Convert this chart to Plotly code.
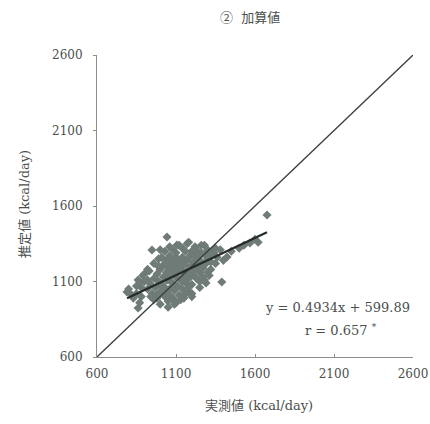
import plotly.graph_objects as go

# Measured (x) vs estimated (y) energy intake, kcal/day
measured = [800, 790, 820, 860, 870, 880, 850, 900, 890, 920, 948, 990, 1043, 1106, 1140, 1180,
            1220, 1260, 1300, 1340, 1390, 1423, 1568, 1600, 1676, 1000, 980, 1050, 1100, 1150,
            1200, 1250, 1280, 1320, 1350, 1300,
            920, 940, 950, 960, 970, 980, 990, 1000, 1000, 1010, 1020, 1020, 1030, 1030, 1040,
            1040, 1050, 1050, 1060, 1060, 1070, 1070, 1080, 1080, 1080, 1090, 1090, 1100, 1100,
            1100, 1110, 1110, 1120, 1120, 1130, 1130, 1140, 1140, 1150, 1150, 1160, 1160, 1170,
            1170, 1180, 1180, 1190, 1190, 1200, 1200, 1210, 1220, 1220, 1230, 1240, 1240, 1250,
            1260, 1270, 1280, 1290, 1300, 1310, 1320, 1330, 1360, 1380, 1400, 1450, 1500, 1530,
            1620, 940, 960, 990, 1010, 1030, 1060, 1000, 1120, 1080, 1060, 1090, 1130, 1160, 1200,
            1170, 1230, 1250, 1270, 1290, 1310, 1050, 1020, 980, 920, 880, 850, 830, 870, 900,
            930, 960, 860, 1000, 1040, 1070, 1110, 1140, 1180, 1210, 1040, 1260, 1350, 1280, 1200,
            1230]
estimated = [1050, 1030, 1010, 925, 960, 1000, 1070, 1100, 1140, 1180, 1309, 1250, 1395, 1342,
             1320, 1360, 1330, 1340, 1310, 1290, 1097, 1262, 1355, 1380, 1540, 950, 990, 930, 960,
             990, 1020, 1060, 1110, 1180, 1220, 1250,
             1050, 1080, 1020, 1120, 1060, 1150, 1100, 1030, 1180, 1080, 1130, 1210, 1000, 1060,
             1160, 1240, 1110, 1190, 1050, 1270, 1140, 1220, 990, 1090, 1170, 1250, 1040, 1130,
             1200, 1290, 1070, 1160, 1230, 1010, 1110, 1180, 1260, 1050, 1140, 1210, 1090, 1300,
             1170, 1240, 1030, 1120, 1200, 1270, 1150, 1080, 1230, 1180, 1290, 1120, 1210, 1260,
             1160, 1230, 1190, 1280, 1220, 1160, 1270, 1230, 1300, 1260, 1310, 1240, 1300, 1320,
             1340, 1360, 1000, 980, 1200, 1260, 1300, 1330, 1310, 1340, 1310, 1010, 950, 980, 1020,
             1000, 1350, 1310, 1100, 1130, 1090, 1140, 970, 1050, 1010, 1110, 1060, 1020, 990, 1090,
             1150, 1170, 1220, 1110, 1080, 1110, 1060, 1250, 1100, 1060, 1140, 1030, 1290, 1320,
             1340, 1300, 1260]

# Regression line y = 0.4934x + 599.89
slope = 0.4934
intercept = 599.89
fit_x = [min(measured), max(measured)]
fit_y = [slope * v + intercept for v in fit_x]

# Line of identity
ident = [600, 2600]

tick_vals = [600, 1100, 1600, 2100, 2600]
tick_text = ["600", "1100", "1600", "2100", "2600"]

serif = "DejaVu Serif, Liberation Serif, serif"
mixed = "DejaVu Serif, Noto Sans CJK JP, serif"
txt = "#4a4f4d"

L, R, T, B = 97, 17, 55, 67
W, H = 430, 424

fig = go.Figure()
fig.add_trace(go.Scatter(
    x=measured, y=estimated, mode="markers",
    marker=dict(symbol="diamond", size=7, color="#6f7b77"),
    hoverinfo="skip",
))
fig.add_trace(go.Scatter(
    x=ident, y=ident, mode="lines",
    line=dict(color="#3b403e", width=1.3), hoverinfo="skip",
))
fig.add_trace(go.Scatter(
    x=fit_x, y=fit_y, mode="lines",
    line=dict(color="#262b29", width=2.2), hoverinfo="skip",
))

fig.update_layout(
    width=W, height=H,
    margin=dict(l=L, r=R, t=T, b=B),
    paper_bgcolor="white", plot_bgcolor="white",
    showlegend=False,
    font=dict(family=serif, color=txt, size=12),
)
fig.update_xaxes(
    range=[600, 2600], tickvals=tick_vals, ticktext=tick_text,
    showgrid=False, zeroline=False, automargin=False,
    showline=True, linecolor="#8a8f8d", linewidth=1,
    ticks="inside", ticklen=3, tickcolor="#8a8f8d",
    ticklabelstandoff=6,
    tickfont=dict(family=serif, size=12, color=txt),
)
fig.update_yaxes(
    range=[600, 2600], tickvals=tick_vals, ticktext=tick_text,
    showgrid=False, zeroline=False, automargin=False,
    showline=True, linecolor="#8a8f8d", linewidth=1,
    ticks="outside", ticklen=3, tickcolor="#8a8f8d",
    ticklabelstandoff=8,
    tickfont=dict(family=serif, size=12, color=txt),
)

annotations = [
    dict(text="②  加算値", x=250, y=18, font=dict(family=mixed, size=13, color=txt)),
    dict(text="実測値 (kcal/day)", x=259, y=405, font=dict(family=mixed, size=13, color=txt)),
    dict(text="推定値 (kcal/day)", x=24, y=204, textangle=-90,
         font=dict(family=mixed, size=13, color=txt)),
    dict(text="y = 0.4934x + 599.89", x=337, y=307, font=dict(family=serif, size=13, color=txt)),
    dict(text="r = 0.657 <sup>*</sup>", x=341, y=330, font=dict(family=serif, size=13, color=txt)),
]
for a in annotations:
    a.update(xref="paper", yref="paper", showarrow=False, xanchor="center", yanchor="middle")
    # pixel position -> paper coordinates
    a["x"] = (a["x"] - L) / (W - L - R)
    a["y"] = 1 - (a["y"] - T) / (H - T - B)
fig.update_layout(annotations=annotations)

fig.write_html("out.html")
